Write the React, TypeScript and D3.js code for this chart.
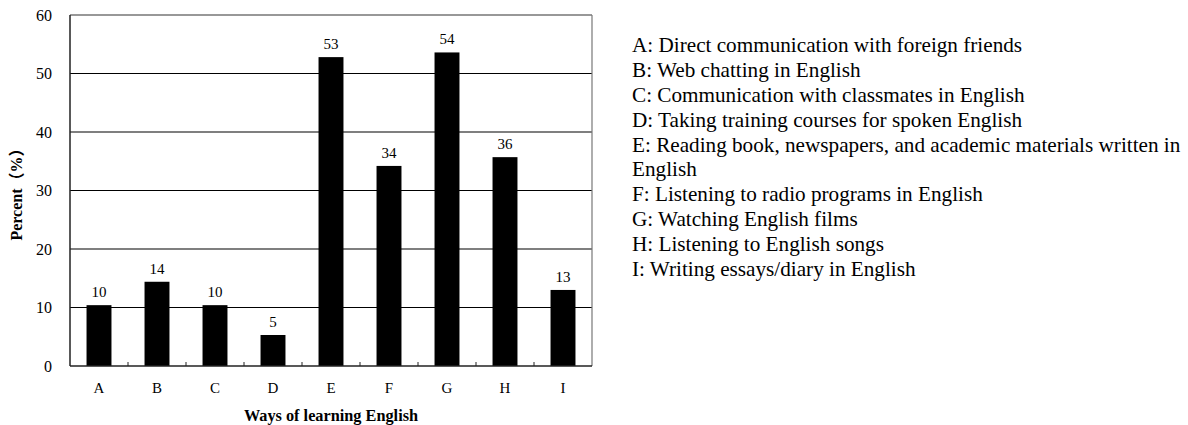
import { useEffect, useRef } from 'react';
import * as d3 from 'd3';

const categories = ['A', 'B', 'C', 'D', 'E', 'F', 'G', 'H', 'I'];
const percents = [10.4, 14.4, 10.4, 5.3, 52.8, 34.2, 53.6, 35.7, 13.0];
const valueLabels = ['10', '14', '10', '5', '53', '34', '54', '36', '13'];
const yTicks = [0, 10, 20, 30, 40, 50, 60];
const legendLines = [
  'A: Direct communication with foreign friends',
  'B: Web chatting in English',
  'C: Communication with classmates in English',
  'D: Taking training courses for spoken English',
  'E: Reading book, newspapers, and academic materials written in',
  'English',
  'F: Listening to radio programs in English',
  'G: Watching English films',
  'H: Listening to English songs',
  'I: Writing essays/diary in English',
];

const FONT = '"Liberation Serif", "Times New Roman", serif';
const CJK = '"Noto Sans CJK SC", "Noto Sans CJK JP", sans-serif';

export default function App() {
  const svgRef = useRef<SVGSVGElement>(null);

  useEffect(() => {
    if (!svgRef.current) return;
    const svg = d3.select(svgRef.current);
    svg.selectAll('*').remove();

    const width = 1188;
    const height = 425;
    const margin = { top: 15, left: 70 };
    const plotW = 522;
    const plotH = 351;

    svg.attr('width', width).attr('height', height);

    const g = svg.append('g').attr('transform', `translate(${margin.left},${margin.top})`);

    const x = d3.scaleBand().domain(categories).range([0, plotW]);
    const barW = x.bandwidth() * 0.43;
    const y = d3.scaleLinear().domain([0, 60]).range([plotH, 0]);
    const cx = (c: string) => (x(c) || 0) + x.bandwidth() / 2;

    // gridlines
    g.selectAll('.grid')
      .data(yTicks.filter((t) => t > 0))
      .enter()
      .append('line')
      .attr('x1', 0)
      .attr('x2', plotW)
      .attr('y1', (d) => y(d))
      .attr('y2', (d) => y(d))
      .attr('stroke', (d) => (d === 60 ? '#333' : '#000'))
      .attr('stroke-width', 1.2);

    // right frame
    g.append('line')
      .attr('x1', plotW)
      .attr('x2', plotW)
      .attr('y1', 0)
      .attr('y2', plotH)
      .attr('stroke', '#777')
      .attr('stroke-width', 1.2);

    // bars
    g.selectAll('.bar')
      .data(percents)
      .enter()
      .append('rect')
      .attr('x', (_, i) => cx(categories[i]) - barW / 2)
      .attr('y', (d) => y(d))
      .attr('width', barW)
      .attr('height', (d) => plotH - y(d))
      .attr('fill', '#000');

    // value labels
    g.selectAll('.val')
      .data(percents)
      .enter()
      .append('text')
      .attr('x', (_, i) => cx(categories[i]))
      .attr('y', (d) => y(d) - 8)
      .attr('text-anchor', 'middle')
      .attr('font-family', FONT)
      .attr('font-size', '15px')
      .attr('fill', '#000')
      .text((_, i) => valueLabels[i]);

    // y axis
    g.append('line')
      .attr('x1', 0)
      .attr('x2', 0)
      .attr('y1', 0)
      .attr('y2', plotH)
      .attr('stroke', '#222')
      .attr('stroke-width', 1.5);

    g.selectAll('.ytick')
      .data(yTicks)
      .enter()
      .append('text')
      .attr('x', -18)
      .attr('y', (d) => y(d))
      .attr('dy', '0.35em')
      .attr('text-anchor', 'end')
      .attr('font-family', FONT)
      .attr('font-size', '16px')
      .attr('fill', '#000')
      .text((d) => d);

    // x axis
    g.append('line')
      .attr('x1', 0)
      .attr('x2', plotW)
      .attr('y1', plotH)
      .attr('y2', plotH)
      .attr('stroke', '#222')
      .attr('stroke-width', 1.5);

    g.selectAll('.xtick')
      .data(categories.slice(1))
      .enter()
      .append('line')
      .attr('x1', (d) => x(d) || 0)
      .attr('x2', (d) => x(d) || 0)
      .attr('y1', plotH)
      .attr('y2', plotH - 4)
      .attr('stroke', '#222')
      .attr('stroke-width', 1);

    g.selectAll('.xlabel')
      .data(categories)
      .enter()
      .append('text')
      .attr('x', (d) => cx(d))
      .attr('y', plotH + 27)
      .attr('text-anchor', 'middle')
      .attr('font-family', FONT)
      .attr('font-size', '15px')
      .attr('fill', '#000')
      .text((d) => d);

    // axis titles
    g.append('text')
      .attr('x', plotW / 2)
      .attr('y', plotH + 55)
      .attr('text-anchor', 'middle')
      .attr('font-family', FONT)
      .attr('font-size', '16.3px')
      .attr('font-weight', 'bold')
      .attr('fill', '#000')
      .text('Ways of learning English');

    const yTitle = svg
      .append('text')
      .attr('transform', `translate(22,${margin.top + plotH / 2}) rotate(-90)`)
      .attr('text-anchor', 'middle')
      .attr('font-family', FONT)
      .attr('font-size', '16px')
      .attr('font-weight', 'bold')
      .attr('fill', '#000');
    yTitle.append('tspan').text('Percent');
    yTitle.append('tspan').attr('font-family', CJK).text('（');
    yTitle.append('tspan').text('%');
    yTitle.append('tspan').attr('font-family', CJK).text('）');

    // legend text
    const legend = svg.append('g').attr('transform', 'translate(632, 45)');
    legend
      .selectAll('text')
      .data(legendLines)
      .enter()
      .append('text')
      .attr('x', 0)
      .attr('y', (_, i) => i * 24.8)
      .attr('dy', '0.35em')
      .attr('font-family', FONT)
      .attr('font-size', '21.2px')
      .attr('fill', '#000')
      .text((d) => d);
  }, []);

  return (
    <div style={{ position: 'absolute', left: 0, top: 0 }}>
      <svg ref={svgRef} style={{ display: 'block' }} />
    </div>
  );
}
